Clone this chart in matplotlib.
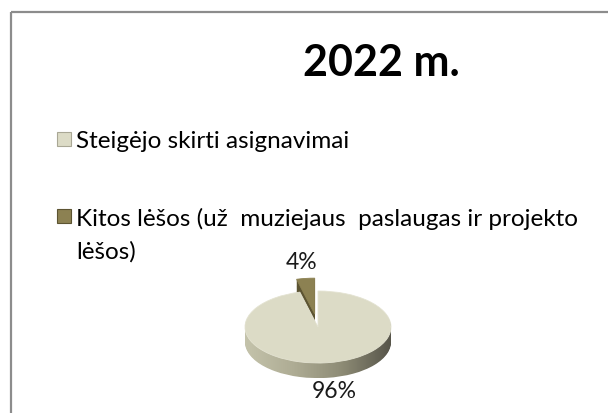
import numpy as np
import matplotlib
matplotlib.use("Agg")
import matplotlib.pyplot as plt
from matplotlib.colors import LinearSegmentedColormap
from matplotlib.patches import Rectangle

# ---- data ----
title = "2022 m."
categories = ["Steigėjo skirti asignavimai",
              "Kitos lėšos (už  muziejaus  paslaugas ir projekto\nlėšos)"]
values = [96, 4]
pct_labels = ["96%", "4%"]

top_colors = ["#dcdbc6", "#8c8152"]
side_colors = ["#a8a68e", "#5c5432"]
explode = [0, 0.36]

W, H = 608, 414
fig = plt.figure(figsize=(W / 100, H / 100), dpi=100)
fig.patch.set_facecolor("white")

# background axes in pixel coordinates
bg = fig.add_axes([0, 0, 1, 1])
bg.set_xlim(0, W)
bg.set_ylim(H, 0)
bg.axis("off")

# border (chart area frame, cropped at right/bottom)
bg.plot([10.5, W], [13, 13], color="#8c8c8c", lw=1.6, solid_capstyle="butt")
bg.plot([10.5, 10.5], [13, H], color="#8c8c8c", lw=1.6, solid_capstyle="butt")

FONT = ["Lato", "DejaVu Sans"]
bg.text(381, 63, title, fontsize=31, fontweight="bold", family=FONT,
        ha="center", va="center", color="black")

# legend (manual), each wrapped line drawn as its own text
leg_y = [140, 217]
line_step = 33
for i, (lab, y) in enumerate(zip(categories, leg_y)):
    bg.add_patch(Rectangle((57, y - 7), 14, 14, facecolor=top_colors[i],
                           edgecolor="#a9a795" if i == 0 else "#5c5432", lw=0.8))
    for j, line in enumerate(lab.split("\n")):
        bg.text(76, y + j * line_step, line, fontsize=17.5, family=FONT,
                ha="left", va="center_baseline", color="black")

# ---- pie axes (elliptical, pseudo-3D) ----
cx, cy = 318, 328          # pixel center of top face
rx, ry = 73, 36            # pixel semi-axes
xl, yl = 1.3, 1.6
ax = fig.add_axes([(cx - xl * rx) / W, (H - cy - yl * ry) / H,
                   2 * xl * rx / W, 2 * yl * ry / H])
depth = 0.42
nlayers = 18
grad_cmap = LinearSegmentedColormap.from_list(
    "side", ["#c4c3ab", "#aeac94", "#8d8b75", "#57554a"])
grad = np.linspace(0, 1, 256).reshape(1, -1)

for k in range(nlayers, 0, -1):
    off = depth * k / nlayers
    z = 1 + (nlayers - k) * 0.01
    ws, _ = ax.pie(values, colors=side_colors, explode=explode,
                   startangle=90, counterclock=False, center=(0, -off),
                   wedgeprops=dict(linewidth=0, zorder=z))
    for w in ws:
        w.set_zorder(z)
    im = ax.imshow(grad, extent=(-1, 1, -1 - depth, 1), cmap=grad_cmap,
                   aspect="auto", zorder=z + 0.001, interpolation="bilinear")
    im.set_clip_path(ws[0])
    ws[0].set_visible(False)

tops, _ = ax.pie(values, colors=top_colors, explode=explode,
                 startangle=90, counterclock=False, center=(0, 0),
                 wedgeprops=dict(linewidth=0.6, edgecolor="#e4e3d2"))
for w in tops:
    w.set_zorder(3)
tops[1].set_edgecolor("#8c8152")

ax.set_aspect("auto")
ax.set_xlim(-xl, xl)
ax.set_ylim(-yl, yl)
ax.axis("off")

# percentage labels placed along wedge mid-angles
label_dist = [1.79, 1.48]
for w, lab, dist, ex in zip(tops, pct_labels, label_dist, explode):
    ang = np.deg2rad((w.theta1 + w.theta2) / 2)
    x = (ex + dist) * np.cos(ang)
    y = (ex + dist) * np.sin(ang)
    ax.text(x, y, lab, fontsize=16.5, family=FONT, ha="center", va="center",
            color="#1a1a1a", zorder=5)

fig.savefig("out.png", dpi=100)
